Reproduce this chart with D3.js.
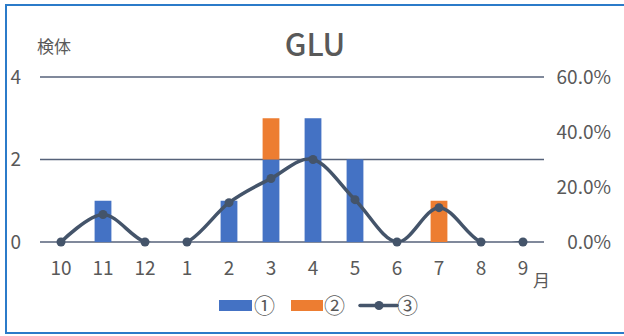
<!DOCTYPE html>
<html>
<head>
<meta charset="utf-8">
<script src="https://cdn.jsdelivr.net/npm/d3@7"></script>
<style>
  html, body { margin: 0; padding: 0; background: #fff; }
  svg { display: block; }
  text { font-family: "Noto Sans CJK JP", "Noto Sans", sans-serif; fill: #595959; }
</style>
</head>
<body>
<svg id="chart" width="624" height="336"></svg>
<script>
// Monthly GLU results (fiscal year order)
const months = ["10", "11", "12", "1", "2", "3", "4", "5", "6", "7", "8", "9"];
const series1 = [0, 1, 0, 0, 1, 2, 3, 2, 0, 0, 0, 0];          // ① specimens
const series2 = [0, 0, 0, 0, 0, 1, 0, 0, 0, 1, 0, 0];          // ② specimens
const series3 = [0, 10.0, 0, 0, 14.3, 23.1, 30.0, 15.4, 0, 12.5, 0, 0]; // ③ rate (%)
const leftTicks = [0, 2, 4];
const rightTicks = [0, 20, 40, 60];
const legendLabels = ["①", "②", "③"];

const colors = { s1: "#4472C4", s2: "#ED7D31", s3: "#44546A", grid: "#56627A", frame: "#2B7BC9" };

const svg = d3.select("#chart");

// outer chart frame
svg.append("rect")
  .attr("x", 6).attr("y", 5).attr("width", 640).attr("height", 328)
  .attr("fill", "#fff").attr("stroke", colors.frame).attr("stroke-width", 2);

const x = d3.scaleBand().domain(months).range([40, 544]).paddingInner(0.6).paddingOuter(0.3);
const yL = d3.scaleLinear().domain([0, 4]).range([242, 77]);
const yR = d3.scaleLinear().domain([0, 60]).range([242, 77]);

// plot area clip: the smoothed line may not dip below the zero line
svg.append("defs").append("clipPath").attr("id", "plotClip")
  .append("rect").attr("x", 0).attr("y", 0).attr("width", 624).attr("height", yL(0));

// horizontal gridlines and base line
svg.append("g").selectAll("line").data(leftTicks).join("line")
  .attr("x1", 40).attr("x2", 544)
  .attr("y1", d => yL(d)).attr("y2", d => yL(d))
  .attr("stroke", colors.grid).attr("stroke-width", 1.5);

// left axis labels
const leftAxis = d3.axisLeft(yL).tickValues(leftTicks).tickSize(0).tickPadding(0).tickFormat(d3.format("d"));
const gL = svg.append("g").attr("transform", "translate(21,0)").call(leftAxis);
gL.select(".domain").remove();
gL.selectAll("text").attr("font-size", 19).attr("fill", "#595959").attr("font-family", null);

// right axis labels
const rightAxis = d3.axisRight(yR).tickValues(rightTicks).tickSize(0).tickPadding(0).tickFormat(d => d3.format(".1f")(d) + "%");
const gR = svg.append("g").attr("transform", "translate(611,0)").call(rightAxis);
gR.select(".domain").remove();
gR.selectAll("text").attr("font-size", 19).attr("fill", "#595959").attr("font-family", null).attr("text-anchor", "end");

// category labels
const bottomAxis = d3.axisBottom(x).tickSize(0).tickPadding(0);
const gB = svg.append("g").attr("transform", "translate(0,261)").call(bottomAxis);
gB.select(".domain").remove();
gB.selectAll("text").attr("font-size", 19).attr("fill", "#595959").attr("font-family", null);

// stacked bars
const stackData = months.map((m, i) => ({ month: m, s1: series1[i], s2: series2[i] }));
const stacked = d3.stack().keys(["s1", "s2"])(stackData);
svg.append("g").selectAll("g").data(stacked).join("g")
  .attr("fill", d => colors[d.key])
  .selectAll("rect").data(d => d).join("rect")
  .attr("x", d => x(d.data.month))
  .attr("width", x.bandwidth())
  .attr("y", d => yL(d[1]))
  .attr("height", d => yL(d[0]) - yL(d[1]));

// smoothed rate line with markers
const cx = m => x(m) + x.bandwidth() / 2;
const linePts = months.map((m, i) => [cx(m), yR(series3[i])]);
svg.append("path")
  .attr("clip-path", "url(#plotClip)")
  .attr("d", d3.line().curve(d3.curveCardinal.tension(0))(linePts))
  .attr("fill", "none").attr("stroke", colors.s3).attr("stroke-width", 3.5)
  .attr("stroke-linecap", "round");
svg.append("g").selectAll("circle").data(linePts).join("circle")
  .attr("cx", d => d[0]).attr("cy", d => d[1]).attr("r", 4.5)
  .attr("fill", colors.s3);

// title and axis captions
svg.append("text").attr("x", 315).attr("y", 56).attr("text-anchor", "middle")
  .attr("font-size", 31).attr("font-weight", 500).text("GLU");
svg.append("text").attr("x", 37).attr("y", 53).attr("font-size", 17).text("検体");
svg.append("text").attr("x", 533).attr("y", 287).attr("font-size", 17).text("月");

// legend
const lg = svg.append("g");
lg.append("rect").attr("x", 219).attr("y", 300).attr("width", 33).attr("height", 11).attr("fill", colors.s1);
lg.append("rect").attr("x", 291).attr("y", 300).attr("width", 32).attr("height", 11).attr("fill", colors.s2);
lg.append("line").attr("x1", 360).attr("x2", 397).attr("y1", 305.5).attr("y2", 305.5)
  .attr("stroke", colors.s3).attr("stroke-width", 3.5).attr("stroke-linecap", "round");
lg.append("circle").attr("cx", 379).attr("cy", 305.5).attr("r", 4.5).attr("fill", colors.s3);
const legendX = [254, 324, 397];
lg.selectAll("text.lbl").data(legendLabels).join("text").attr("class", "lbl")
  .attr("x", (d, i) => legendX[i]).attr("y", 313).attr("font-size", 21).text(d => d);
</script>
</body>
</html>
